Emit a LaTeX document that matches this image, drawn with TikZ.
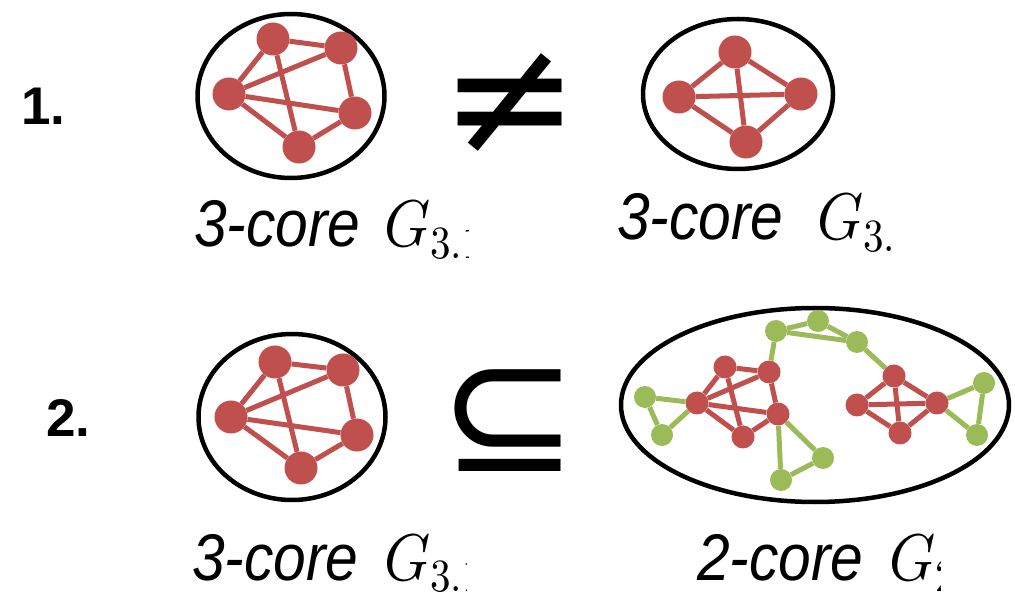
\documentclass[tikz,border=0pt]{standalone}
\usepackage{fontspec}
\usepackage{unicode-math}
\setmainfont{Liberation Sans}
\setmathfont{Latin Modern Math}
\newfontfamily\symfont{DejaVu Sans}
\usetikzlibrary{shapes.geometric}
\definecolor{corered}{HTML}{C0504D}
\definecolor{coregreen}{HTML}{9BBB59}
\newcommand{\gsub}[1]{$G_{\raisebox{5pt}{$\scriptstyle #1$}}$}
\tikzset{
  ring/.style={ellipse, draw=black, line width=4.5pt, inner sep=0pt},
  redv/.style={circle, fill=corered, inner sep=0pt, minimum size=33pt},
  smallred/.style={redv, minimum size=23pt},
  greenv/.style={circle, fill=coregreen, inner sep=0pt, minimum size=22pt},
  rededge/.style={draw=corered, line width=5pt},
  greenedge/.style={draw=coregreen, line width=5pt},
  corelabel/.style={anchor=base west, inner sep=0pt, xscale=0.89,
                    font=\fontsize{66}{66}\selectfont\itshape},
  numlabel/.style={anchor=base west, inner sep=0pt, font=\fontsize{53}{53}\selectfont\bfseries},
  relsym/.style={inner sep=0pt, font=\fontsize{166}{166}\selectfont\symfont},
}
\begin{document}
\begin{tikzpicture}[x=1pt, y=-1pt]
    \useasboundingbox (0,0) rectangle (1015,593);
    % row numbers
    \node[numlabel] (num1) at (21,125) {1.};
    \node[numlabel] (num2) at (46,437) {2.};
    % relation symbols
    \node[relsym] (neq) at (510,104) {≠};
    \node[relsym] (sub) at (509,421) {⊆};
    % 3-core, first row
    \node[ring, minimum width=187pt, minimum height=164pt] (ringa) at (291,96) {};
    \node[redv] (a1) at (273,39) {};
    \node[redv] (a2) at (341,48) {};
    \node[redv] (a3) at (229,94) {};
    \node[redv] (a4) at (355,113) {};
    \node[redv] (a5) at (299,147) {};
    \foreach \u/\v in {a1/a2, a1/a3, a1/a5, a2/a3, a2/a4, a3/a4, a3/a5, a4/a5}
      \draw[rededge] (\u) -- (\v);
    % other 3-core, first row
    \node[ring, minimum width=190pt, minimum height=150pt] (ringb) at (738,94) {};
    \node[redv] (b1) at (735,52) {};
    \node[redv] (b2) at (679,97) {};
    \node[redv] (b3) at (801,94) {};
    \node[redv] (b4) at (746,142) {};
    \foreach \u/\v in {b1/b2, b1/b3, b1/b4, b2/b3, b2/b4, b3/b4}
      \draw[rededge] (\u) -- (\v);
    % 3-core, second row
    \node[ring, minimum width=187pt, minimum height=166pt] (ringc) at (292,417) {};
    \node[redv] (c1) at (275,362) {};
    \node[redv] (c2) at (343,370) {};
    \node[redv] (c3) at (231,417) {};
    \node[redv] (c4) at (357,435) {};
    \node[redv] (c5) at (301,468) {};
    \foreach \u/\v in {c1/c2, c1/c3, c1/c5, c2/c3, c2/c4, c3/c4, c3/c5, c4/c5}
      \draw[rededge] (\u) -- (\v);
    % 2-core, second row
    \node[ring, minimum width=388pt, minimum height=194pt] (ringd) at (815,405) {};
    \node[smallred] (r1) at (725,367) {};
    \node[smallred] (r2) at (769,372) {};
    \node[smallred] (r3) at (697,403) {};
    \node[smallred] (r4) at (778,414) {};
    \node[smallred] (r5) at (743,437) {};
    \node[smallred] (s1) at (894,376) {};
    \node[smallred] (s2) at (857,405) {};
    \node[smallred] (s3) at (937,403) {};
    \node[smallred] (s4) at (900,433) {};
    \node[greenv] (g1) at (776,331) {};
    \node[greenv] (g2) at (818,321) {};
    \node[greenv] (g3) at (857,342) {};
    \node[greenv] (g4) at (645,397) {};
    \node[greenv] (g5) at (662,435) {};
    \node[greenv] (g6) at (823,458) {};
    \node[greenv] (g7) at (781,480) {};
    \node[greenv] (g8) at (984,383) {};
    \node[greenv] (g9) at (977,435) {};
    \foreach \u/\v in {g1/g2, g2/g3, g1/g3, g1/r2, g3/s1, g4/g5, g4/r3, g5/r3,
                       r4/g6, r4/g7, g6/g7, s3/g8, s3/g9, g8/g9}
      \draw[greenedge] (\u) -- (\v);
    \foreach \u/\v in {r1/r2, r1/r3, r1/r5, r2/r3, r2/r4, r3/r4, r3/r5, r4/r5,
                       s1/s2, s1/s3, s1/s4, s2/s3, s2/s4, s3/s4}
      \draw[rededge] (\u) -- (\v);
    % captions, cut off at the right as in the figure
    \begin{scope}
      \clip (150,170) rectangle (468,270);
      \node[corelabel] (capa) at (194,247) {3-core};
      \node[corelabel] (gra) at (384,247) {\gsub{3.1}};
    \end{scope}
    \begin{scope}
      \clip (580,170) rectangle (890,270);
      \node[corelabel] (capb) at (617,240) {3-core};
      \node[corelabel] (grb) at (817,240) {\gsub{3.2}};
    \end{scope}
    \begin{scope}
      \clip (150,510) rectangle (466,593);
      \node[corelabel] (capc) at (192,580) {3-core};
      \node[corelabel] (grc) at (384,580) {\gsub{3.1}};
    \end{scope}
    \begin{scope}
      \clip (660,510) rectangle (940,593);
      \node[corelabel] (capd) at (697,580) {2-core};
      \node[corelabel] (grd) at (889,580) {\gsub{2}};
    \end{scope}
  \end{tikzpicture}
\end{document}
